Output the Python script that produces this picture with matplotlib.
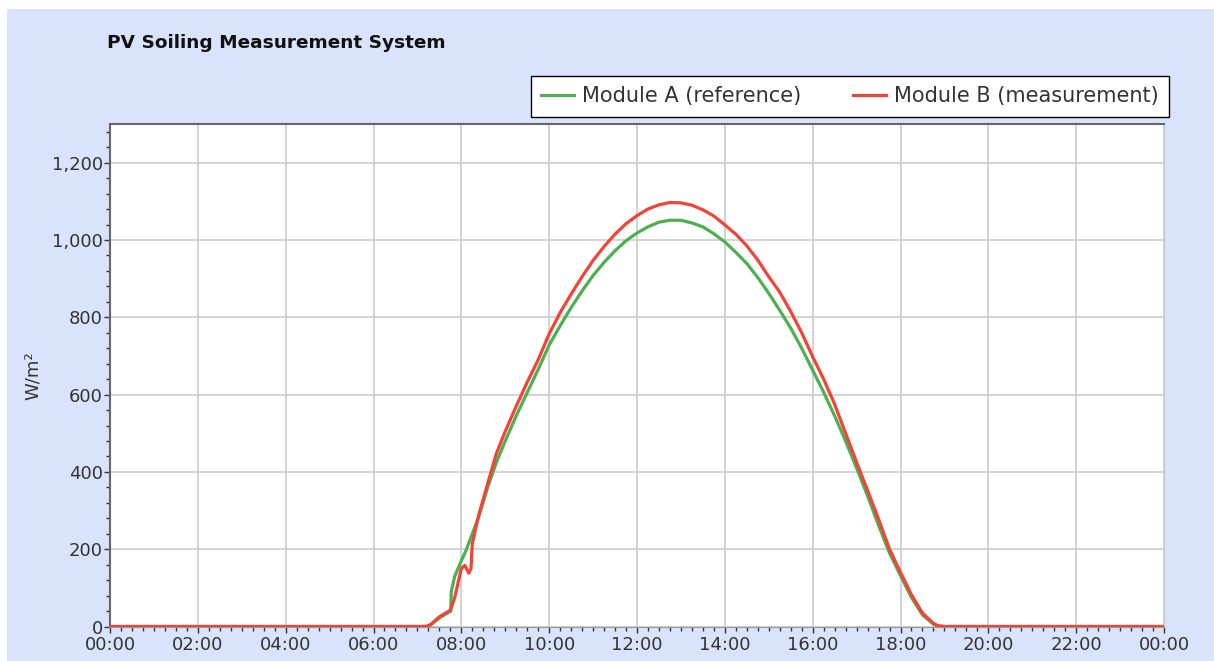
# -*- coding: utf-8 -*-
"""
PV Soiling Measurement System - daily irradiance of two modules.
"""
import matplotlib
matplotlib.use('Agg')
import matplotlib.pyplot as plt
from matplotlib import patches
from matplotlib.ticker import MultipleLocator, FuncFormatter

# time of day in hours, values in W/m2
hours_a = [0, 7.2, 7.3, 7.5, 7.76, 7.77, 7.85, 8.0, 8.1, 8.2, 8.4, 8.6, 8.8, 9.0,
           9.25, 9.5, 9.75, 10.0, 10.25, 10.5, 10.75, 11.0, 11.25, 11.5, 11.75,
           12.0, 12.25, 12.5, 12.75, 13.0, 13.25, 13.5, 13.75, 14.0, 14.25, 14.5,
           14.75, 15.0, 15.25, 15.5, 15.75, 16.0, 16.25, 16.5, 16.75, 17.0, 17.25,
           17.5, 17.75, 18.0, 18.25, 18.5, 18.75, 18.85, 19.0, 24]
module_a = [0, 0, 4, 22, 40, 90, 130, 170, 195, 225, 285, 360, 425, 480,
            545, 605, 665, 728, 778, 825, 868, 908, 942, 972, 998,
            1018, 1034, 1046, 1051, 1051, 1044, 1034, 1016, 995, 968, 939,
            903, 862, 818, 772, 720, 663, 606, 545, 480, 410, 338,
            262, 190, 132, 75, 30, 6, 1, 0, 0]

hours_b = [0, 7.2, 7.3, 7.5, 7.75, 7.85, 8.0, 8.08, 8.17, 8.22, 8.25, 8.4, 8.6,
           8.8, 9.0, 9.25, 9.5, 9.75, 10.0, 10.25, 10.5, 10.75, 11.0, 11.25, 11.5,
           11.75, 12.0, 12.25, 12.5, 12.75, 13.0, 13.25, 13.5, 13.75, 14.0, 14.25,
           14.5, 14.75, 15.0, 15.25, 15.5, 15.75, 16.0, 16.25, 16.5, 16.75, 17.0,
           17.25, 17.5, 17.75, 18.0, 18.25, 18.5, 18.75, 18.85, 19.0, 24]
module_b = [0, 0, 5, 25, 42, 75, 150, 158, 138, 150, 215, 290, 370,
            448, 505, 570, 632, 690, 757, 812, 860, 905, 947, 983, 1015,
            1042, 1063, 1080, 1091, 1097, 1096, 1090, 1078, 1062, 1039, 1015,
            985, 948, 905, 865, 815, 760, 698, 640, 575, 500, 425,
            352, 278, 200, 140, 82, 35, 8, 2, 0, 0]

labels = ['Module A (reference)', 'Module B (measurement)']
colors = ['#4caf50', '#f44336']

W, H = 1214, 661
fig = plt.figure(figsize=(W / 100, H / 100), dpi=100)
fig.patch.set_facecolor('white')
# light blue panel behind everything
fig.patches.append(patches.Rectangle((7 / W, 0), 1 - 7 / W, 1 - 9 / H,
                                     transform=fig.transFigure, facecolor='#dae3fc',
                                     edgecolor='none', zorder=-10))

ax = fig.add_axes([110 / W, 1 - 626.5 / H, (1164 - 110) / W, (626.5 - 124) / H])
ax.set_facecolor('white')

ax.plot(hours_a, module_a, color=colors[0], lw=2.3, label=labels[0], zorder=3)
ax.plot(hours_b, module_b, color=colors[1], lw=2.3, label=labels[1], zorder=4)

ax.set_xlim(0, 24)
ax.set_ylim(0, 1300)
ax.xaxis.set_major_locator(MultipleLocator(2))
ax.xaxis.set_minor_locator(MultipleLocator(0.25))
ax.yaxis.set_major_locator(MultipleLocator(200))
ax.yaxis.set_minor_locator(MultipleLocator(40))
ax.xaxis.set_major_formatter(FuncFormatter(lambda v, p: '%02d:00' % (int(round(v)) % 24)))
ax.yaxis.set_major_formatter(FuncFormatter(lambda v, p: '{:,.0f}'.format(v)))

ax.grid(True, which='major', color='#cccccc', lw=1.2, zorder=0)
ax.tick_params(axis='both', which='major', direction='out', length=4, width=1,
               color='#333333', labelsize=13, labelcolor='#333333')
ax.tick_params(axis='y', which='major', pad=1)
ax.tick_params(axis='x', which='major', pad=3)
ax.tick_params(axis='both', which='minor', direction='out', length=3, width=1,
               color='#333333')

for side in ('left', 'top'):
    ax.spines[side].set_color('#666666')
    ax.spines[side].set_linewidth(1.5)
ax.spines['right'].set_color('#c8c8c8')
ax.spines['bottom'].set_color('#999999')

ax.set_ylabel('W/m²', fontsize=13, color='#333333', labelpad=7)

fig.text(107 / W, 1 - 43 / H, 'PV Soiling Measurement System', fontsize=13.3,
         fontweight='bold', color='#111111', va='center', ha='left')

leg = ax.legend(loc='lower right', bbox_to_anchor=(1169 / W, 1 - 116.7 / H),
                bbox_transform=fig.transFigure, ncol=2, fontsize=15,
                frameon=True, fancybox=False, framealpha=1, edgecolor='black',
                handlelength=1.55, handletextpad=0.4, columnspacing=2.5,
                borderpad=0.5, borderaxespad=0)
leg.get_frame().set_linewidth(1.0)
for t in leg.get_texts():
    t.set_color('#333333')

plt.savefig('out.png', dpi=100, facecolor=fig.get_facecolor())
plt.close()
